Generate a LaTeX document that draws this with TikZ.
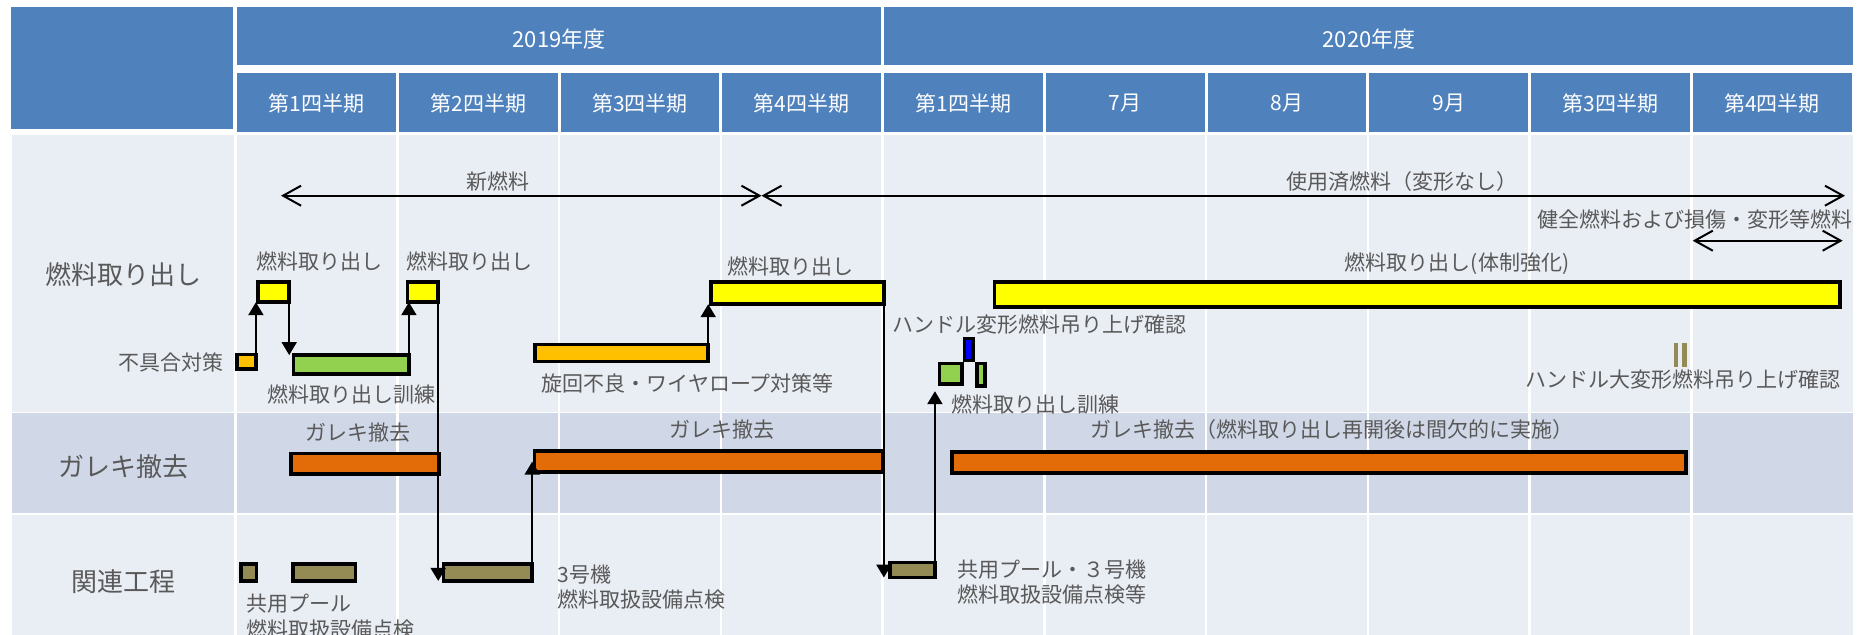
\documentclass[tikz,border=0pt]{standalone}
\usepackage{fontspec}
\setmainfont{Noto Sans CJK JP}
\usetikzlibrary{arrows.meta,fit}
\definecolor{hdr}{HTML}{4F81BD}
\definecolor{rowA}{HTML}{E9EDF4}
\definecolor{rowB}{HTML}{D0D8E8}
\definecolor{txt}{HTML}{595959}
\definecolor{cYellow}{HTML}{FFFF00}
\definecolor{cGold}{HTML}{FFC000}
\definecolor{cGreen}{HTML}{92D050}
\definecolor{cOrange}{HTML}{E36C09}
\definecolor{cKhaki}{HTML}{948A54}
\definecolor{cBlue}{HTML}{0000FF}
\begin{document}
\begin{tikzpicture}[x=0.5pt,y=-0.5pt,
  hcell/.style={fill=hdr, draw=none, inner sep=0pt, outer sep=0pt},
  htext/.style={text=white, inner sep=0pt, font=\fontsize{10.5pt}{13pt}\selectfont},
  ytext/.style={htext, font=\fontsize{11pt}{13pt}\selectfont},
  gbar/.style={draw=black, line width=1.8pt, inner sep=0pt, outer sep=0pt},
  markbar/.style={fill=cKhaki, draw=none, inner sep=0pt, outer sep=0pt},
  lbl/.style={text=txt, inner sep=0pt, font=\fontsize{10.5pt}{13pt}\selectfont},
  rowlbl/.style={text=txt, inner sep=0pt, font=\fontsize{13pt}{16pt}\selectfont},
  proc/.style={line width=1pt, -{Triangle[length=6.5pt,width=7.5pt]}},
  spanarrow/.style={line width=0.85pt, {Straight Barb[length=9pt,width=10pt,line width=1pt]}-{Straight Barb[length=9pt,width=10pt,line width=1pt]}},
  gridline/.style={white, line width=1.25pt}
]
\useasboundingbox (0,0) rectangle (1867,635);
\fill[white] (0,0) rectangle (1867,635);

% ---------- header ----------
\node[hcell, fit={(10.8,7.3) (232.6,129.3)}] (corner) {};
\node[hcell, fit={(237.2,7.3) (881.1,65.3)}] (y2019) {};
\node[hcell, fit={(884.1,7.3) (1853,65.3)}] (y2020) {};
\node[ytext] (ty2019) at (559,39) {2019年度};
\node[ytext] (ty2020) at (1369,39) {2020年度};
\foreach \i/\t in {0/第1四半期,1/第2四半期,2/第3四半期,3/第4四半期,4/第1四半期,5/7月,6/8月,7/9月,8/第3四半期,9/第4四半期}{
  \pgfmathsetmacro\xa{235.7+161.73*\i+1.5}
  \pgfmathsetmacro\xb{235.7+161.73*(\i+1)-1.5}
  \pgfmathsetmacro\xc{235.7+161.73*(\i+0.5)}
  \node[hcell, fit={(\xa,73.3) (\xb,131.7)}] (sh\i) {};
  \node[htext] (tsh\i) at (\xc,103.5) {\t};
}

% ---------- body background ----------
\fill[rowA] (11.7,135) rectangle (1853,411.7);
\fill[rowB] (11.7,413.3) rectangle (1853,513.3);
\fill[rowA] (11.7,515) rectangle (1853,635);
\foreach \i in {0,...,9}{
  \draw[gridline] ({235.7+161.73*\i},135) -- ({235.7+161.73*\i},635);
}

% ---------- row labels ----------
\node[rowlbl] (lblA) at (123,275) {燃料取り出し};
\node[rowlbl] (lblB) at (123,466.7) {ガレキ撤去};
\node[rowlbl] (lblC) at (123,581.7) {関連工程};

% ---------- range arrows ----------
\coordinate (nfL) at (281,195.7);
\coordinate (nfR) at (761.5,195.7);
\coordinate (sfR) at (1845,195.7);
\coordinate (kfL) at (1692.7,240.7);
\coordinate (kfR) at (1842.7,240.7);
\draw[spanarrow] (nfL) -- (nfR);
\draw[spanarrow] (nfR) -- (sfR);
\draw[spanarrow] (kfL) -- (kfR);
\node[lbl] (tNF) at (498,182) {新燃料};
\node[lbl] (tSF) at (1402,182) {使用済燃料（変形なし）};
\node[lbl, anchor=east] (tKF) at (1853,220) {健全燃料および損傷・変形等燃料};

% ---------- bars ----------
\node[gbar, fill=cYellow, fit={(257.8,281.8) (289.2,302.2)}] (Y1) {};
\node[gbar, fill=cYellow, fit={(407.5,281.8) (438.2,302.2)}] (Y2) {};
\node[gbar, fill=cYellow, fit={(711.1,281.8) (883.9,304.2)}] (Y3) {};
\node[gbar, fill=cYellow, fit={(994.5,281.8) (1839.9,307.2)}] (Y4) {};
\node[gbar, fill=cGold, fit={(236.8,354.5) (255.9,369.2)}] (O1) {};
\node[gbar, fill=cGreen, fit={(293.5,355.1) (408.9,374.2)}] (G1) {};
\node[gbar, fill=cGold, fit={(534.8,344.5) (708.2,361.5)}] (O2) {};
\node[gbar, fill=cGreen, fit={(939.5,363.5) (962.2,384.2)}] (G2) {};
\node[gbar, fill=cGreen, fit={(976.8,363.5) (984.9,385.9)}] (G3) {};
\node[gbar, fill=cBlue, fit={(964.5,338.5) (973.2,360.5)}] (BL) {};
\node[markbar, fit={(1674,343.3) (1678.3,366.7)}] (M1) {};
\node[markbar, fit={(1682.3,343.3) (1686.7,366.7)}] (M2) {};

\node[gbar, fill=cOrange, fit={(291.1,453.5) (438.9,473.9)}] (R1) {};
\node[gbar, fill=cOrange, fit={(534.5,451.1) (882.5,472.2)}] (R2) {};
\node[gbar, fill=cOrange, fit={(951.8,451.8) (1685.9,473.2)}] (R3) {};

\node[gbar, fill=cKhaki, fit={(241.1,564.1) (256.5,580.9)}] (K1) {};
\node[gbar, fill=cKhaki, fit={(292.8,564.1) (355.5,580.9)}] (K2) {};
\node[gbar, fill=cKhaki, fit={(443.5,564.1) (532.2,580.9)}] (K3) {};
\node[gbar, fill=cKhaki, fit={(890.1,562.5) (934.9,577.5)}] (K4) {};

% ---------- process arrows ----------
\draw[proc] (O1.north east) -- (O1.north east |- Y1.south);
\draw[proc] (Y1.south east) -- (Y1.south east |- G1.north);
\draw[proc] (G1.north east) -- (G1.north east |- Y2.south);
\draw[proc] (Y2.south east) -- (Y2.south east |- K3.south);
\draw[proc] (K3.north east) -- (K3.north east |- R2.center);
\draw[proc] (O2.north east) -- (O2.north east |- Y3.south);
\draw[proc] (Y3.south east) -- (Y3.south east |- K4.south);
\draw[proc, shorten >=3.5pt] (K4.south east) -- (K4.south east |- G2.south);

% ---------- labels ----------
\node[lbl] (tY1) at (319,261) {燃料取り出し};
\node[lbl] (tY2) at (469,261) {燃料取り出し};
\node[lbl] (tY3) at (790.5,266) {燃料取り出し};
\node[lbl] (tY4) at (1457,263.3) {燃料取り出し(体制強化)};
\node[lbl, anchor=east] (tO1) at (224,362) {不具合対策};
\node[lbl] (tG1) at (351,395) {燃料取り出し訓練};
\node[lbl] (tO2) at (687.7,383) {旋回不良・ワイヤロープ対策等};
\node[lbl] (tHD) at (1039.5,325) {ハンドル変形燃料吊り上げ確認};
\node[lbl, anchor=west] (tG2) at (951,404.3) {燃料取り出し訓練};
\node[lbl] (tHB) at (1683,380) {ハンドル大変形燃料吊り上げ確認};
\node[lbl] (tR1) at (358.3,433) {ガレキ撤去};
\node[lbl] (tR2) at (722,430) {ガレキ撤去};
\node[lbl, anchor=west] (tR3) at (1090,430) {ガレキ撤去（燃料取り出し再開後は間欠的に実施）};
\node[lbl, anchor=west, align=left, font=\fontsize{10.5pt}{13.35pt}\selectfont] (tK12) at (245.7,616.7) {共用プール\\燃料取扱設備点検};
\node[lbl, anchor=west, align=left, font=\fontsize{10.5pt}{12.5pt}\selectfont] (tK3) at (557,587.5) {3号機\\燃料取扱設備点検};
\node[lbl, anchor=west, align=left, font=\fontsize{10.5pt}{12.2pt}\selectfont] (tK4) at (956.7,582.2) {共用プール・３号機\\燃料取扱設備点検等};
\end{tikzpicture}
\end{document}
